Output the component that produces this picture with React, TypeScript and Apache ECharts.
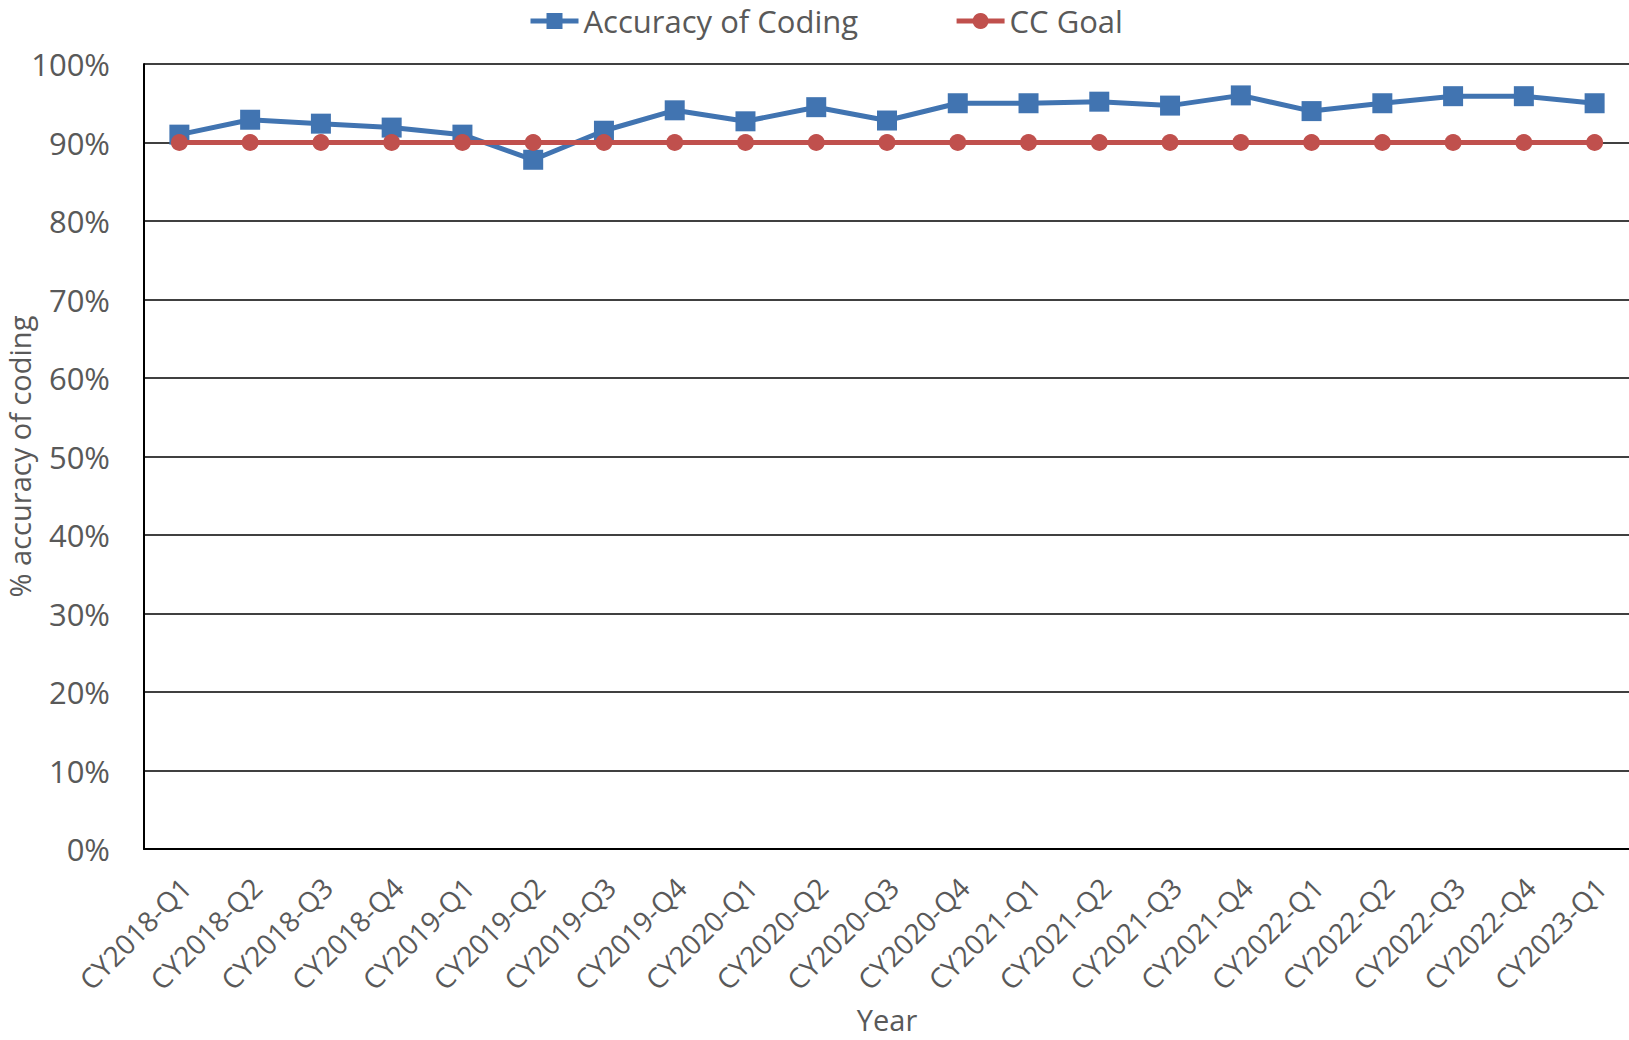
import React, { useEffect, useRef } from "react";
import * as echarts from "echarts";

const categories = [
  "CY2018-Q1", "CY2018-Q2", "CY2018-Q3", "CY2018-Q4",
  "CY2019-Q1", "CY2019-Q2", "CY2019-Q3", "CY2019-Q4",
  "CY2020-Q1", "CY2020-Q2", "CY2020-Q3", "CY2020-Q4",
  "CY2021-Q1", "CY2021-Q2", "CY2021-Q3", "CY2021-Q4",
  "CY2022-Q1", "CY2022-Q2", "CY2022-Q3", "CY2022-Q4",
  "CY2023-Q1",
];

const accuracyOfCoding = [
  91.0, 92.9, 92.4, 91.9,
  91.0, 87.8, 91.5, 94.1,
  92.7, 94.5, 92.8, 95.0,
  95.0, 95.2, 94.7, 96.0,
  94.0, 95.0, 95.9, 95.9,
  95.0,
];

const ccGoal = [
  90, 90, 90, 90,
  90, 90, 90, 90,
  90, 90, 90, 90,
  90, 90, 90, 90,
  90, 90, 90, 90,
  90,
];

const yTicks = [0, 10, 20, 30, 40, 50, 60, 70, 80, 90, 100];

const FONT = "Open Sans";
const TEXT = "#595959";
const BLUE = "#4174B1";
const RED = "#C0504D";

export default function App() {
  const ref = useRef<HTMLDivElement>(null);

  useEffect(() => {
    if (!ref.current) return;
    const chart = echarts.init(ref.current, undefined, { renderer: "svg" });
    chart.setOption({
      animation: false,
      backgroundColor: "#ffffff",
      textStyle: { fontFamily: FONT },
      legend: {
        top: 5,
        left: 523,
        padding: [0, 5],
        itemWidth: 48,
        itemHeight: 20,
        itemGap: 96,
        lineStyle: { width: 5 },
        textStyle: { fontFamily: FONT, fontSize: 31, color: TEXT, lineHeight: 32 },
        data: ["Accuracy of Coding", "CC Goal"],
      },
      grid: {
        left: 144,
        top: 64,
        bottom: 191,
        right: -1,
        containLabel: false,
        outerBoundsMode: "none",
      },
      xAxis: {
        type: "category",
        data: categories,
        boundaryGap: true,
        name: "Year",
        nameLocation: "middle",
        nameGap: 156,
        nameMoveOverlap: false,
        nameTextStyle: { fontFamily: FONT, fontSize: 29, color: TEXT },
        axisLine: { show: true, lineStyle: { color: "#000000", width: 2 } },
        axisTick: { show: false },
        axisLabel: {
          rotate: 45,
          interval: 0,
          margin: 27,
          verticalAlign: "top",
          lineHeight: 18,
          fontFamily: FONT,
          fontSize: 28,
          color: TEXT,
        },
        splitLine: { show: false },
      },
      yAxis: {
        type: "value",
        min: yTicks[0],
        max: yTicks[yTicks.length - 1],
        interval: 10,
        name: "% accuracy of coding",
        nameLocation: "middle",
        nameGap: 110,
        nameMoveOverlap: false,
        nameTextStyle: { fontFamily: FONT, fontSize: 29, color: TEXT },
        axisLine: { show: true, lineStyle: { color: "#000000", width: 2 } },
        axisTick: { show: false },
        axisLabel: {
          margin: 34,
          fontFamily: FONT,
          fontSize: 31,
          color: TEXT,
          formatter: (v: number) => `${v}%`,
        },
        splitLine: { show: true, lineStyle: { color: "#000000", width: 1.5 } },
      },
      series: [
        {
          name: "Accuracy of Coding",
          type: "line",
          data: accuracyOfCoding,
          symbol: "rect",
          symbolSize: 20,
          z: 3,
          lineStyle: { color: BLUE, width: 5 },
          itemStyle: { color: BLUE },
        },
        {
          name: "CC Goal",
          type: "line",
          data: ccGoal,
          symbol: "circle",
          symbolSize: 17,
          z: 4,
          lineStyle: { color: RED, width: 5 },
          itemStyle: { color: RED },
        },
      ],
    });
    return () => chart.dispose();
  }, []);

  return (
    <div
      ref={ref}
      style={{ position: "fixed", left: 0, top: 0, width: 1629, height: 1040 }}
    />
  );
}
